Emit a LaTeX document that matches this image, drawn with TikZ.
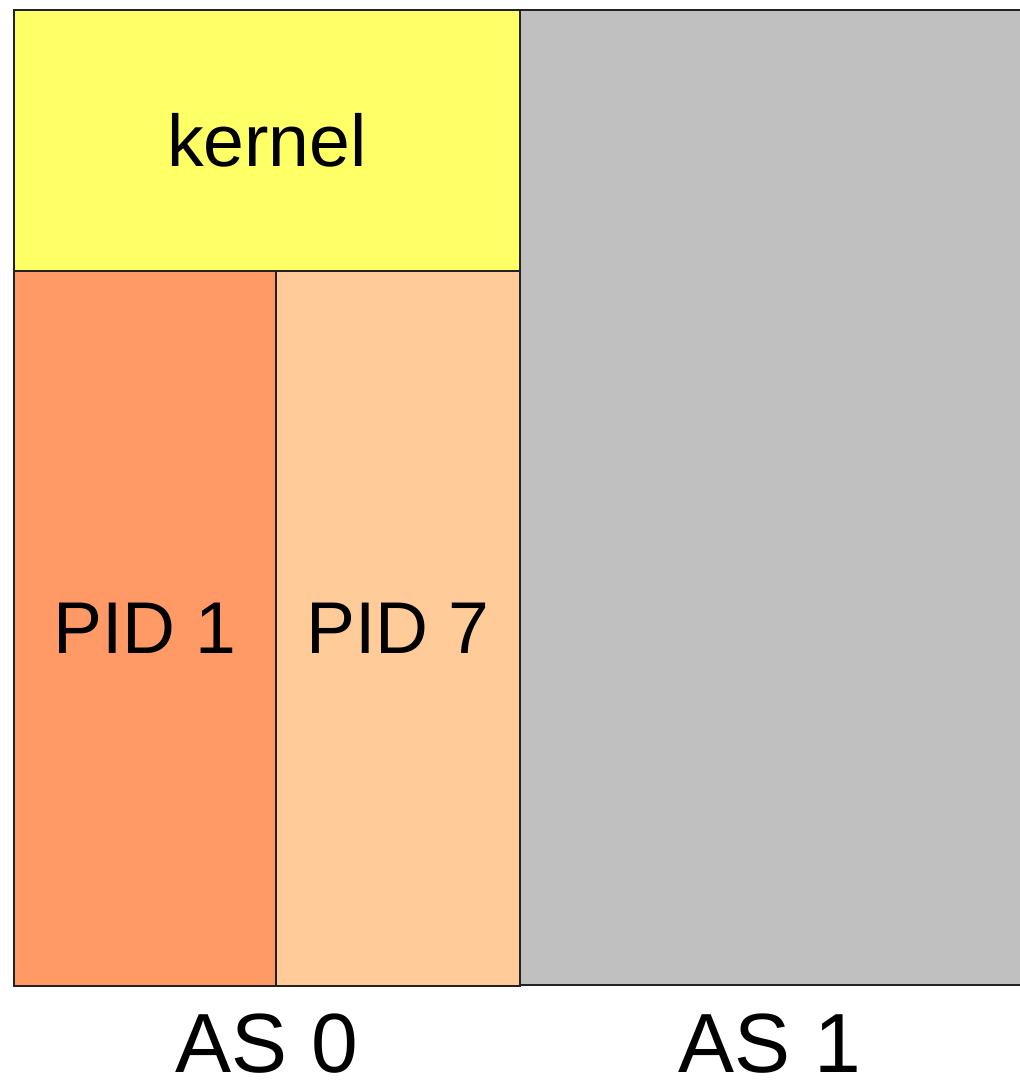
\documentclass[tikz,border=0pt]{standalone}
\usepackage{fontspec}
\setmainfont{Liberation Sans}
\definecolor{kyellow}{HTML}{FFFF66}
\definecolor{pidone}{HTML}{FF9966}
\definecolor{pidseven}{HTML}{FFCC99}
\definecolor{asgrey}{HTML}{C0C0C0}
\definecolor{edge}{HTML}{222222}
\begin{document}
\begin{tikzpicture}[x=0.75pt,y=-0.75pt,
  region/.style={draw=edge,line width=0.9pt,inner sep=0pt,outer sep=0pt,rectangle,
    font=\fontsize{55}{60}\selectfont},
  aslabel/.style={inner sep=0pt,anchor=base,font=\fontsize{63}{70}\selectfont}]
\useasboundingbox (0,0) rectangle (1020,1081);
% AS 1 grey area (right side runs off the picture)
\fill[asgrey] (520,10) rectangle (1020,985);
\draw[edge,line width=0.9pt] (1021,10) -- (520,10) -- (520,985) -- (1021,985);
\node[region,fill=kyellow,minimum width=379.5pt,minimum height=195.75pt] (kernel) at (267,140.5) {kernel};
\node[region,fill=pidone,minimum width=196.5pt,minimum height=536.25pt] (pid1) at (145,628.5) {PID 1};
\node[region,fill=pidseven,minimum width=183pt,minimum height=536.25pt] (pid7) at (398,628.5) {PID 7};
\node[aslabel] (as0) at (267,1072) {AS 0};
\node[aslabel] (as1) at (770,1072) {AS 1};
\end{tikzpicture}
\end{document}
